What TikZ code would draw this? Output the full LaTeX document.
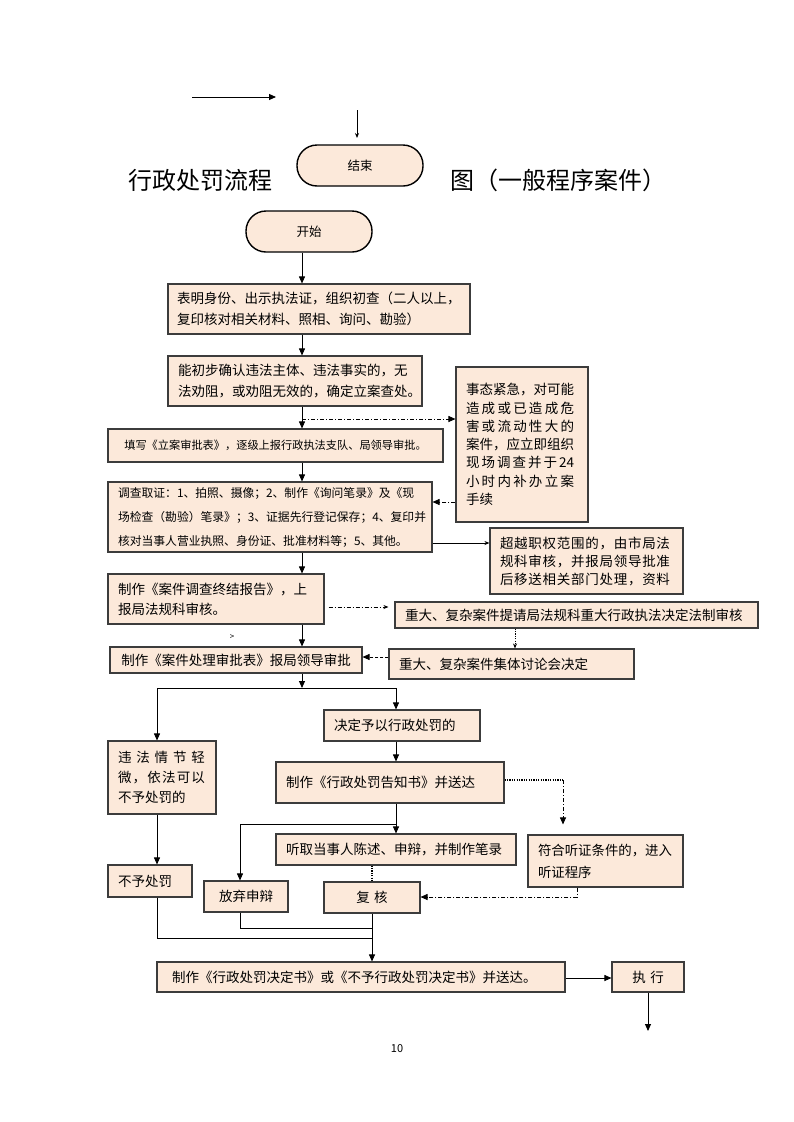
\documentclass[tikz,border=0pt]{standalone}
\usepackage{fontspec}
\setmainfont{Noto Sans CJK SC}
\usetikzlibrary{arrows.meta}
\definecolor{peach}{RGB}{252,233,218}
\definecolor{edge}{RGB}{60,60,60}
% spread one line of characters over a given width
\def\spreadchars#1#2{#1\ifx\relax#2\else\hfill\expandafter\spreadchars\expandafter#2\fi}
\newcommand\wideline[2]{\makebox[#1][s]{\spreadchars#2\relax}}

\begin{document}
\begin{tikzpicture}[x=1pt,y=-1pt,
    box/.style={draw=edge, fill=peach, line width=1.1pt, inner xsep=10pt, inner ysep=0pt, align=left, font=\fontsize{13.5}{21}\selectfont},
    wh/.style 2 args={text width=#1, minimum height=#2},
    pill/.style={draw=black, fill=peach, line width=1.4pt, rounded corners=20pt, minimum width=126pt, minimum height=41pt, font=\fontsize{12.5}{14}\selectfont},
    headline/.style={font=\fontsize{24}{28}\selectfont},
    arr/.style={-{Triangle[length=7pt,width=6pt]}, line width=0.9pt},
    tarr/.style={-{Stealth[length=5pt,width=4pt]}, line width=0.8pt},
    ddline/.style={dash pattern=on 4pt off 2pt on 1pt off 2pt},
    dotline/.style={dash pattern=on 1.2pt off 1.2pt, line width=1.2pt},
    dashline/.style={dash pattern=on 3pt off 2pt}]
\fill[white] (0,0) rectangle (793,1122);
\useasboundingbox (0,0) rectangle (793,1122);

% title and the two ends
\node[headline, anchor=east] (ttl) at (276,180) {行政处罚流程};
\node[headline, anchor=west] (ttr) at (447,180) {图（一般程序案件）};
\node[pill] (endn) at (360,165.5) {结束};
\node[pill] (startn) at (309,231.5) {开始};

% main column
\node[box, wh={284pt}{50pt}, inner xsep=9pt] (show) at (319,309) {表明身份、出示执法证，组织初查（二人以上，\\复印核对相关材料、照相、询问、勘验）};
\node[box, wh={234pt}{50pt}] (confirm) at (295,381) {能初步确认违法主体、违法事实的，无\\法劝阻，或劝阻无效的，确定立案查处。};
\node[box, wh={315pt}{33pt}, align=center, font=\fontsize{11.2}{14}\selectfont] (fill) at (275.5,445.5) {填写《立案审批表》，逐级上报行政执法支队、局领导审批。};
\node[box, wh={304pt}{70pt}, font=\fontsize{11.8}{24}\selectfont] (collect) at (270,517) {调查取证：1、拍照、摄像；2、制作《询问笔录》及《现\\场检查（勘验）笔录》；3、证据先行登记保存；4、复印并\\核对当事人营业执照、身份证、批准材料等；5、其他。};
\node[box, wh={196pt}{50pt}, font=\fontsize{13.5}{20}\selectfont] (report) at (216,599) {制作《案件调查终结报告》，上\\报局法规科审核。};
\node[box, wh={232pt}{26pt}, align=center] (approve) at (236,660) {制作《案件处理审批表》报局领导审批};
\node[box, wh={136pt}{31pt}] (decide) at (402,725.5) {决定予以行政处罚的};
\node[box, wh={88pt}{73pt}, font=\fontsize{13.5}{20}\selectfont] (minor) at (162,777.5) {\wideline{87pt}{违法情节轻}\\\wideline{87pt}{微，依法可以}\\不予处罚的};
\node[box, wh={208pt}{41pt}] (notice) at (390,782.5) {制作《行政处罚告知书》并送达};
\node[box, wh={220pt}{31pt}] (hear) at (396,849.5) {听取当事人陈述、申辩，并制作笔录};
\node[box, wh={64pt}{32pt}] (nopen) at (150,881) {不予处罚};
\node[box, wh={64pt}{31pt}, align=center] (waive) at (246,896.5) {放弃申辩};
\node[box, wh={76pt}{31pt}, align=center] (recheck) at (372,897.5) {复\ 核};
\node[box, wh={378pt}{30pt}, inner xsep=15pt] (final) at (361,977) {制作《行政处罚决定书》或《不予行政处罚决定书》并送达。};
\node[box, wh={52pt}{30pt}, align=center] (exec) at (648,977) {执\ 行};

% side boxes
\node[box, wh={112pt}{155pt}, font=\fontsize{13.5}{18.3}\selectfont] (urgent) at (522,444.5) {事态紧急，对可能\\\wideline{108pt}{造成或已造成危}\\\wideline{108pt}{害或流动性大的}\\案件，应立即组织\\\makebox[108pt][s]{现\hfill 场\hfill 调\hfill 查\hfill 并\hfill 于\hfill 24}\\\wideline{108pt}{小时内补办立案}\\手续};
\node[box, wh={173pt}{66pt}, font=\fontsize{13.5}{18}\selectfont] (beyond) at (586.5,561) {\wideline{170pt}{超越职权范围的，由市局法}\\\wideline{170pt}{规科审核，并报局领导批准}\\\wideline{170pt}{后移送相关部门处理，资料}};
\node[box, wh={343pt}{26pt}] (review) at (576.5,615) {重大、复杂案件提请局法规科重大行政执法决定法制审核};
\node[box, wh={225pt}{30pt}] (collective) at (511.5,664) {重大、复杂案件集体讨论会决定};
\node[box, wh={135pt}{52pt}, font=\fontsize{13.4}{22}\selectfont] (hearing) at (605.5,861) {符合听证条件的，进入\\听证程序};

% loose marks
\node[font=\fontsize{8}{9}\selectfont] (mark) at (232,637) {>};
\node[font=\fontsize{11}{13}\selectfont] (pageno) at (397,1049) {10};

% connectors
\coordinate (spine) at (302,0);
\coordinate (s1) at (192,97);
\coordinate (s2) at (276,97);
\coordinate (s3) at (357,110);
\coordinate (s4) at (357,138);
\draw[arr] (s1) -- (s2);
\draw[tarr] (s3) -- (s4);

\draw[arr] (startn.south -| spine) -- (show.north -| spine);
\draw[arr] (show.south -| spine) -- (confirm.north -| spine);
\draw[arr] (confirm.south -| spine) -- (fill.north -| spine);
\coordinate (j1) at (302,419);
\draw[ddline, arr] (j1) -- (j1 -| urgent.west);
\draw[arr] (fill.south -| spine) -- (collect.north -| spine);
\coordinate (j2) at (0,502);
\draw[ddline, arr] (urgent.west |- j2) -- (collect.east |- j2);
\coordinate (j3) at (0,543);
\draw[tarr] (collect.east |- j3) -- (beyond.west |- j3);
\draw[arr] (collect.south -| spine) -- (report.north -| spine);
\coordinate (j4) at (0,607);
\draw[ddline, tarr, shorten <=4pt, shorten >=6pt] (report.east |- j4) -- (review.west |- j4);
\draw[arr] (report.south -| spine) -- (approve.north -| spine);
\coordinate (j5) at (515,0);
\draw[dotline, tarr] (review.south -| j5) -- (collective.north -| j5);
\coordinate (j6) at (0,657);
\draw[dashline, arr] (collective.west |- j6) -- (approve.east |- j6);

\coordinate (j7) at (157,688);
\coordinate (j8) at (396,688);
\draw[arr] (approve.south -| spine) -- (spine |- j7);
\draw[line width=0.9pt] (j7) -- (j8);
\draw[arr] (j7) -- (minor.north -| j7);
\draw[arr] (j8) -- (decide.north -| j8);
\draw[arr] (decide.south -| j8) -- (notice.north -| j8);
\draw[arr] (notice.south -| j8) -- (hear.north -| j8);
\coordinate (j9) at (240,824);
\draw[arr] (j8 |- j9) -- (j9) -- (waive.north -| j9);
\coordinate (j10) at (563,780);
\draw[dotline] (notice.east |- j10) -- (j10);
\draw[ddline, arr, shorten >=10pt] (j10) -- (j10 |- hearing.north);
\draw[arr] (minor.south -| j7) -- (nopen.north -| j7);
\coordinate (j11) at (372,0);
\draw[dotline] (hear.south -| j11) -- (recheck.north -| j11);
\coordinate (j12) at (577,897);
\draw[ddline, arr] (hearing.south -| j12) -- (j12) -- (recheck.east |- j12);

\coordinate (j13) at (0,928);
\coordinate (j14) at (0,938);
\draw[line width=0.9pt] (waive.south -| j9) |- (j11 |- j13);
\draw[line width=0.9pt] (nopen.south -| j7) |- (j11 |- j14);
\draw[arr] (recheck.south) -- (final.north -| recheck.south);
\coordinate (j15) at (0,978);
\draw[arr] (final.east |- j15) -- (exec.west |- j15);
\coordinate (j16) at (648,1031);
\draw[arr] (exec.south) -- (j16);
\end{tikzpicture}
\end{document}
